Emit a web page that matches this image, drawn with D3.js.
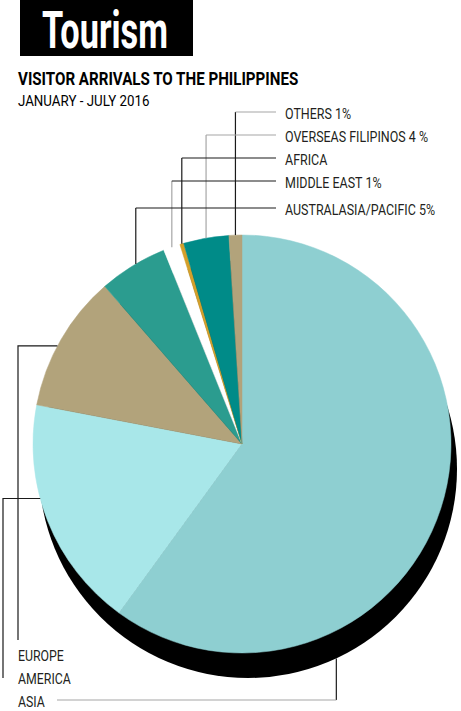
<!DOCTYPE html>
<html>
<head>
<meta charset="utf-8">
<script src="https://cdn.jsdelivr.net/npm/d3@7"></script>
<style>
  body { margin: 0; background: #fff; }
  text { font-family: Roboto, "Liberation Sans", sans-serif; fill: #231f20; }
</style>
</head>
<body>
<svg id="chart" width="461" height="711"></svg>
<script>
// slices, clockwise from 12 o'clock
let regions = ['ASIA', 'AMERICA', 'EUROPE', 'AUSTRALASIA/PACIFIC', 'MIDDLE EAST', 'AFRICA', 'OVERSEAS FILIPINOS', 'OTHERS'];
let shares = [60.0, 18.0, 10.6, 5.3, 1.3, 0.3, 3.5, 1.0];
let labels = ['ASIA', 'AMERICA', 'EUROPE', 'AUSTRALASIA/PACIFIC 5%', 'MIDDLE EAST 1%', 'AFRICA', 'OVERSEAS FILIPINOS 4 %', 'OTHERS 1%'];
let sliceColors = ['#8ecfd1', '#a8e7e9', '#b2a37b', '#2b9c8f', '#ffffff', '#d4a02a', '#008b88', '#b2a37b'];

let svg = d3.select('#chart');
let cx = 242, cy = 444, r = 209;

// squeeze a text to a condensed width
function condense(sel, k) {
  sel.each(function () {
    let len = this.getComputedTextLength();
    d3.select(this).attr('textLength', len * k).attr('lengthAdjust', 'spacingAndGlyphs');
  });
}

// header
svg.append('rect').attr('x', 20).attr('y', 0).attr('width', 173).attr('height', 56).attr('fill', '#000');
svg.append('text').text('Tourism')
  .attr('x', 42).attr('y', 48)
  .style('font-size', '52px').style('font-weight', 'bold').style('fill', '#fff')
  .call(condense, 0.66);
svg.append('text').text('VISITOR ARRIVALS TO THE PHILIPPINES')
  .attr('x', 18).attr('y', 85)
  .style('font-size', '18px').style('font-weight', 'bold').style('fill', '#000')
  .call(condense, 0.84);
svg.append('text').text('JANUARY - JULY 2016')
  .attr('x', 18).attr('y', 106)
  .style('font-size', '14px').style('fill', '#000')
  .call(condense, 0.95);

let data = regions.map((d, i) => ({ region: d, value: shares[i], label: labels[i], color: sliceColors[i] }));

let pie = d3.pie().value(d => d.value).sort(null);
let arcs = pie(data);
let arcFn = d3.arc().innerRadius(0).outerRadius(r);

let g = svg.append('g').attr('transform', `translate(${cx},${cy})`);

// drop shadow
g.append('circle').attr('cx', 6).attr('cy', 25).attr('r', r).attr('fill', '#000');

g.selectAll('path')
  .data(arcs)
  .join('path')
  .attr('d', arcFn)
  .attr('fill', d => d.data.color)
  .attr('stroke', d => d.data.color)
  .attr('stroke-width', 0.5);

// point on the rim at a fraction of the slice
function rim(a, f, rad = r) {
  let t = a.startAngle + (a.endAngle - a.startAngle) * f;
  return [cx + rad * Math.sin(t), cy - rad * Math.cos(t)];
}

let leaders = svg.append('g').attr('fill', 'none').attr('stroke-width', 1.2);
let dark = '#1a1a1a', grey = '#a6a6a6';

// top callouts: [slice index, line y, fraction in slice, vertical colour, horizontal colour]
let topCallouts = [
  [7, 112, 0.5, dark, grey],
  [6, 135, 0.5, grey, grey],
  [5, 158, 0.5, dark, dark],
  [4, 181, 0.5, grey, dark],
  [3, 208, 0.55, dark, dark]
];
topCallouts.forEach(([i, ly, f, vc, hc]) => {
  let [px, py] = rim(arcs[i], f);
  leaders.append('line').attr('x1', px).attr('x2', px).attr('y1', ly).attr('y2', py).attr('stroke', vc);
  leaders.append('line').attr('x1', px).attr('x2', 276).attr('y1', ly).attr('y2', ly).attr('stroke', hc);
  svg.append('text').text(arcs[i].data.label)
    .attr('x', 285).attr('y', ly + 7)
    .style('font-size', '14px')
    .call(condense, 0.89);
});

// left callouts: Europe and America
let sideCallouts = [
  [2, 0.45, 18, 640, 661],
  [1, 0.6, 3, 678, 684]
];
sideCallouts.forEach(([i, f, lx, yEnd, ty]) => {
  let [px, py] = rim(arcs[i], f);
  leaders.append('path')
    .attr('d', `M${px},${py}H${lx}V${yEnd}`)
    .attr('stroke', dark);
  svg.append('text').text(arcs[i].data.label)
    .attr('x', 18).attr('y', ty)
    .style('font-size', '14px')
    .call(condense, 0.88);
});

// Asia callout hangs from the shadow rim
let asiaAngle = Math.PI * 155 / 180;
let ax = cx + 6 + r * Math.sin(asiaAngle), ay = cy + 25 - r * Math.cos(asiaAngle);
leaders.append('line').attr('x1', ax).attr('x2', ax).attr('y1', ay).attr('y2', 700).attr('stroke', dark);
leaders.append('line').attr('x1', 57).attr('x2', ax).attr('y1', 700).attr('y2', 700).attr('stroke', grey);
svg.append('text').text(arcs[0].data.label)
  .attr('x', 18).attr('y', 707)
  .style('font-size', '14px')
  .call(condense, 0.88);
</script>
</body>
</html>
